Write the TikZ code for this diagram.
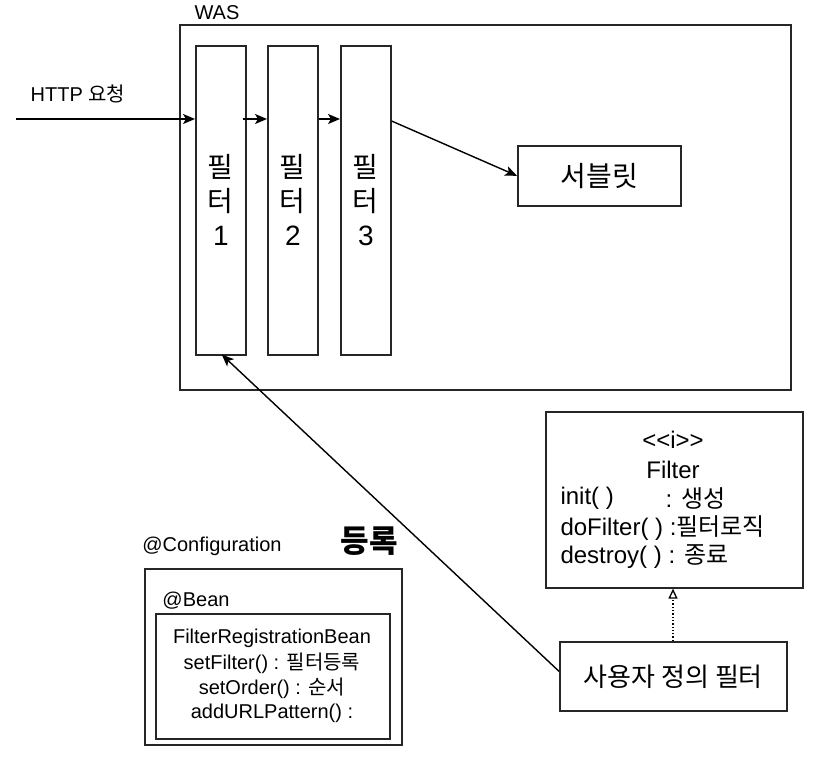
\documentclass[tikz,border=0pt]{standalone}
\usepackage{fontspec}
\setmainfont{Liberation Sans}
\newfontfamily\kr{Noto Sans CJK KR}
\usetikzlibrary{arrows.meta}
\tikzset{
  box/.style={draw=black!85, line width=1.6pt, rectangle, inner sep=0pt, anchor=north west},
  conn/.style={line width=1.4pt, -{Stealth[length=12pt,width=10pt,inset=3pt]}},
  fs/.style={font=\fontsize{#1}{#1}\selectfont}
}
\begin{document}
\begin{tikzpicture}[x=1pt,y=-1pt]
\useasboundingbox (0,0) rectangle (826,756);
% WAS
\node[box, minimum width=611pt, minimum height=365pt] (was) at (179,24) {};
\node[fs=20, anchor=west] (waslbl) at (191,13) {WAS};
% filters
\node[box, minimum width=50pt, minimum height=309pt, align=center, font=\fontsize{28}{34}\selectfont] (f1) at (195,45) {{\kr 필}\\{\kr 터}\\1};
\node[box, minimum width=50pt, minimum height=309pt, align=center, font=\fontsize{28}{34}\selectfont] (f2) at (267,45) {{\kr 필}\\{\kr 터}\\2};
\node[box, minimum width=50pt, minimum height=309pt, align=center, font=\fontsize{28}{34}\selectfont] (f3) at (340,45) {{\kr 필}\\{\kr 터}\\3};
% servlet
\node[box, minimum width=163pt, minimum height=60pt, fs=28] (sv) at (517,145) {\kr 서블릿};
% HTTP
\coordinate (hs) at (16,119);
\node[fs=20] (httplbl) at (78,94) {HTTP {\kr 요청}};
\draw[conn] (hs) -- (hs -| f1.west);
\draw[conn] ([xshift=-4pt]f1.east |- hs) -- (f2.west |- hs);
\draw[conn] (f2.east |- hs) -- (f3.west |- hs);
\draw[conn] ([yshift=-2pt]f3.east |- hs) -- (sv.west);
% Filter interface
\node[box, minimum width=257pt, minimum height=176pt] (fi) at (545,411) {};
\node[fs=24] (stereo) at (673,440) {{<}{<}i{>}{>}};
\node[fs=24] (fname) at (673,470) {Filter};
\node[fs=24, anchor=west] (m1) at (557,498) {init( )};
\node[fs=24, anchor=west] (m1b) at (662,498) {: {\kr 생성}};
\node[fs=24, anchor=west] (m2) at (557,528) {doFilter( ) :{\kr 필터로직}};
\node[fs=24, anchor=west] (m3) at (557,557) {destroy( ) : {\kr 종료}};
% user filter
\node[box, minimum width=227pt, minimum height=69pt, fs=26] (uf) at (559,641) {\kr 사용자 정의 필터};
\draw[line width=1.3pt, dotted, -{Triangle[open,length=10pt,width=9pt]}] (uf.north -| 673,0) -- (fi.south -| 673,0);
% register
\draw[conn] ([yshift=5pt]uf.west) -- ([xshift=1pt,yshift=1pt]f1.south);
\node[font=\fontsize{31}{34}\selectfont\bfseries] (reg) at (369,541) {\kr 등록};
% configuration
\node[fs=20] (cfglbl) at (212,546) {@Configuration};
\node[box, minimum width=257pt, minimum height=176pt] (cfg) at (144,568) {};
\node[fs=20] (beanlbl) at (196,601) {@Bean};
\node[box, minimum width=234pt, minimum height=125pt] (bean) at (155,613) {};
\node[fs=20] (b1) at (272,638) {FilterRegistrationBean};
\node[fs=20] (b2) at (272,663) {setFilter() : {\kr 필터등록}};
\node[fs=20] (b3) at (272,688) {setOrder() : {\kr 순서}};
\node[fs=20] (b4) at (272,713) {addURLPattern() :};
\end{tikzpicture}
\end{document}
